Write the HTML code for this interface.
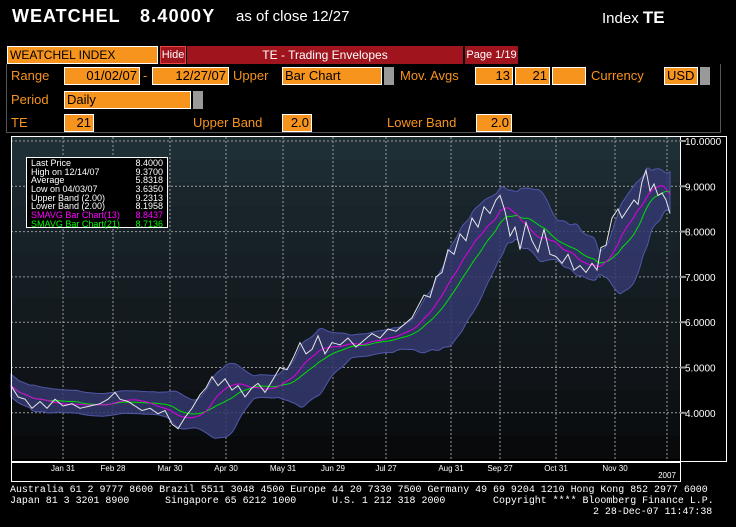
<!DOCTYPE html>
<html><head><meta charset="utf-8"><style>
body{margin:0;width:736px;height:527px;background:#000;overflow:hidden;font-family:"Liberation Sans",sans-serif;position:relative}
.a{position:absolute;white-space:nowrap}
.o{color:#f7941d;font-size:13px}
.b{position:absolute;background:#f7941d;color:#000;font-size:13px;border:1px solid #fff;box-sizing:border-box;height:18px;line-height:16px;padding:0 2px;overflow:hidden}
.g{position:absolute;background:#999;width:10px;height:18px}
.ft{font-family:"Liberation Mono",monospace;font-size:9.95px;color:#fff}
.st div{position:relative;height:8.7px}
.st span{position:absolute;right:4px;top:0}
</style></head><body>
<div class="a" style="left:12px;top:6px;color:#fff;font-size:18px;font-weight:bold;letter-spacing:1px">WEATCHEL</div>
<div class="a" style="left:140px;top:6px;color:#fff;font-size:18px;font-weight:bold;letter-spacing:1.2px">8.4000Y</div>
<div class="a" style="left:236px;top:8px;color:#fff;font-size:15px">as of close 12/27</div>
<div class="a" style="left:602px;top:8px;color:#fff;font-size:15px">Index <b style="font-size:17px">TE</b></div>
<div class="b" style="left:7px;top:46px;width:151px;font-size:12px">WEATCHEL INDEX</div>
<div class="a" style="left:160px;top:46px;width:26px;height:18px;background:#a0141e;border:1px solid #e44;box-sizing:border-box;color:#fff;font-size:11px;text-align:center;line-height:16px">Hide</div>
<div class="a" style="left:187px;top:46px;width:276px;height:18px;background:#a0141e;color:#fff;font-size:12px;text-align:center;line-height:18px">TE - Trading Envelopes</div>
<div class="a" style="left:465px;top:46px;width:53px;height:18px;background:#a0141e;color:#fff;font-size:11px;text-align:center;line-height:18px">Page 1/19</div>
<div class="a" style="left:6px;top:64px;width:713px;height:68px;border:1px solid #555;border-top:none"></div>
<div class="a o" style="left:11px;top:68px">Range</div>
<div class="b" style="left:64px;top:67px;width:76px;text-align:right">01/02/07</div>
<div class="a o" style="left:143px;top:68px">-</div>
<div class="b" style="left:152px;top:67px;width:77px;text-align:right">12/27/07</div>
<div class="a o" style="left:233px;top:68px">Upper</div>
<div class="b" style="left:282px;top:67px;width:100px">Bar Chart</div><div class="g" style="left:384px;top:67px"></div>
<div class="a o" style="left:400px;top:68px">Mov. Avgs</div>
<div class="b" style="left:475px;top:67px;width:38px;text-align:right">13</div>
<div class="b" style="left:515px;top:67px;width:35px;text-align:right">21</div>
<div class="b" style="left:552px;top:67px;width:34px"></div>
<div class="a o" style="left:591px;top:68px">Currency</div>
<div class="b" style="left:664px;top:67px;width:34px">USD</div><div class="g" style="left:700px;top:67px"></div>
<div class="a o" style="left:11px;top:92px">Period</div>
<div class="b" style="left:64px;top:91px;width:127px">Daily</div><div class="g" style="left:193px;top:91px"></div>
<div class="a o" style="left:11px;top:115px">TE</div>
<div class="b" style="left:64px;top:114px;width:30px;text-align:right">21</div>
<div class="a o" style="left:193px;top:115px">Upper Band</div>
<div class="b" style="left:282px;top:114px;width:30px;text-align:right">2.0</div>
<div class="a o" style="left:387px;top:115px">Lower Band</div>
<div class="b" style="left:476px;top:114px;width:36px;text-align:right">2.0</div>

<svg class="a" style="left:0;top:0" width="736" height="527" id="s"></svg>

<div class="a st" style="left:26px;top:157px;width:142px;height:71px;border:1px solid #fff;background:#000;font-size:9px;line-height:8.7px;padding:1px 0 0 4px;box-sizing:border-box;color:#fff">
<div>Last Price<span>8.4000</span></div>
<div>High on 12/14/07<span>9.3700</span></div>
<div>Average<span>5.8318</span></div>
<div>Low on 04/03/07<span>3.6350</span></div>
<div>Upper Band (2.00)<span>9.2313</span></div>
<div>Lower Band (2.00)<span>8.1958</span></div>
<div style="color:#f0f">SMAVG Bar Chart(13)<span>8.8437</span></div>
<div style="color:#0f0">SMAVG Bar Chart(21)<span>8.7136</span></div>
</div>

<div class="a ft" style="left:10px;top:484px;line-height:11px">Australia 61 2 9777 8600 Brazil 5511 3048 4500 Europe 44 20 7330 7500 Germany 49 69 9204 1210 Hong Kong 852 2977 6000<br>Japan 81 3 3201 8900&nbsp;&nbsp;&nbsp;&nbsp;&nbsp;&nbsp;Singapore 65 6212 1000&nbsp;&nbsp;&nbsp;&nbsp;&nbsp;&nbsp;U.S. 1 212 318 2000&nbsp;&nbsp;&nbsp;&nbsp;&nbsp;&nbsp;&nbsp;&nbsp;Copyright **** Bloomberg Finance L.P.</div>
<div class="a ft" style="left:593px;top:506px">2 28-Dec-07 11:47:38</div>

<script>
var s=document.getElementById('s'),h='';
function Y(p){return 141+(10-p)*45.3}
var cols=['#1f2f36','#1c2a31','#1a262c','#18232a','#172128','#161f26','#141d22','#131b1f','#12191d','#11171b','#101418','#0d1114','#0b0e10','#080a0c'];
for(var i=0;i<14;i++){var y0=137+i*23;h+='<rect x="11" y="'+y0+'" width="669" height="24" fill="'+cols[i]+'"/>';}
h+='<rect x="11" y="459" width="669" height="3" fill="#000"/>';
var gx=[63,113,170,226,283,333,386,451,500,556,615,667];
gx.forEach(function(x){h+='<line x1="'+x+'" y1="137" x2="'+x+'" y2="461" stroke="#999" stroke-dasharray="2,2" stroke-width="1"/>';});
for(var p=4;p<=10;p++){h+='<line x1="11" y1="'+Y(p)+'" x2="680" y2="'+Y(p)+'" stroke="#999" stroke-dasharray="2,2"/>';}
var k=[[11,4.6],[18,4.35],[25,4.3],[32,4.1],[40,4.25],[47,4.1],[55,4.3],[63,4.15],[72,4.2],[80,4.1],[90,4.15],[100,4.2],[108,4.3],[115,4.45],[120,4.3],[128,4.25],[135,4.15],[142,4.05],[150,4.1],[158,3.98],[165,4.05],[172,3.75],[178,3.65],[185,3.9],[192,4.1],[200,4.4],[206,4.55],[212,4.8],[218,4.6],[225,4.75],[232,4.5],[238,4.6],[245,4.35],[252,4.55],[258,4.65],[265,4.45],[272,4.7],[280,5.0],[287,4.95],[294,5.25],[300,5.55],[306,5.3],[312,5.4],[318,5.7],[325,5.3],[332,5.55],[340,5.5],[348,5.65],[356,5.45],[364,5.6],[372,5.75],[380,5.65],[388,5.85],[396,5.8],[404,5.95],[412,6.1],[418,6.35],[424,6.6],[430,6.55],[436,7.0],[442,7.1],[448,7.6],[454,7.5],[460,7.95],[466,7.8],[472,8.3],[478,8.1],[484,8.55],[490,8.4],[496,8.7],[500,8.8],[505,8.45],[510,7.9],[515,8.1],[520,7.6],[526,8.2],[532,7.8],[538,7.55],[544,8.05],[550,7.5],[556,7.45],[562,7.3],[568,7.5],[574,7.15],[580,7.25],[586,7.1],[592,7.3],[597,7.15],[601,7.65],[606,7.7],[612,8.3],[618,8.5],[622,8.3],[628,8.5],[634,8.7],[638,8.6],[642,9.1],[646,9.35],[650,8.9],[654,9.05],[658,8.8],[662,8.85],[666,8.7],[670,8.4]];
var px=[],pv=[];
for(var i=0;i<k.length-1;i++){for(var t=0;t<4;t++){var f=t/4;px.push(k[i][0]+(k[i+1][0]-k[i][0])*f);pv.push(k[i][1]+(k[i+1][1]-k[i][1])*f);}}
px.push(670);pv.push(8.4);
function ma(n){var r=[];for(var i=0;i<pv.length;i++){var a=Math.max(0,i-n+1),s2=0;for(var j=a;j<=i;j++)s2+=pv[j];r.push(s2/(i-a+1));}return r;}
var m13=ma(22),m21=ma(36),up=[],lo=[];
for(var i=0;i<pv.length;i++){var a=Math.max(0,i-35),sd=0,c=0;for(var j=a;j<=i;j++){sd+=(pv[j]-m21[i])*(pv[j]-m21[i]);c++;}sd=Math.sqrt(sd/c);var w=Math.max(0.25,2*sd);up.push(m21[i]+w);lo.push(m21[i]-w);}
function pl(arr){return arr.map(function(v,i){return px[i].toFixed(1)+','+Y(v).toFixed(1)}).join(' ');}
var band=pl(up)+' '+lo.map(function(v,i){return px[i].toFixed(1)+','+Y(v).toFixed(1)}).reverse().join(' ');
h+='<polygon points="'+band+'" fill="#34386e" fill-opacity="0.85" stroke="#5058a8" stroke-width="1"/>';
h+='<polyline points="'+pl(m21)+'" fill="none" stroke="#00e000" stroke-width="1"/>';
h+='<polyline points="'+pl(m13)+'" fill="none" stroke="#e000e0" stroke-width="1"/>';
h+='<polyline points="'+pl(pv)+'" fill="none" stroke="#e8e8e8" stroke-width="1"/>';
h+='<rect x="11.5" y="136.5" width="669" height="325" fill="none" stroke="#fff"/>';
h+='<rect x="680.5" y="136.5" width="46" height="325" fill="#000" stroke="#fff"/>';
h+='<rect x="11.5" y="462.5" width="669" height="19" fill="#000" stroke="#fff"/>';
for(var p=4;p<=10;p++){h+='<line x1="680" y1="'+Y(p)+'" x2="686" y2="'+Y(p)+'" stroke="#999" stroke-width="2"/><text x="685" y="'+(Y(p)+4)+'" fill="#fff" font-size="10" font-family="Liberation Sans">'+p+'.0000</text>';}
var lb=['Jan 31','Feb 28','Mar 30','Apr 30','May 31','Jun 29','Jul 27','Aug 31','Sep 27','Oct 31','Nov 30'];
lb.forEach(function(t,i){h+='<text x="'+gx[i]+'" y="471" fill="#fff" font-size="8" text-anchor="middle" font-family="Liberation Sans">'+t+'</text>';});
h+='<text x="667" y="478" fill="#fff" font-size="8" text-anchor="middle" font-family="Liberation Sans">2007</text>';
s.innerHTML=h;
</script>
</body></html>
